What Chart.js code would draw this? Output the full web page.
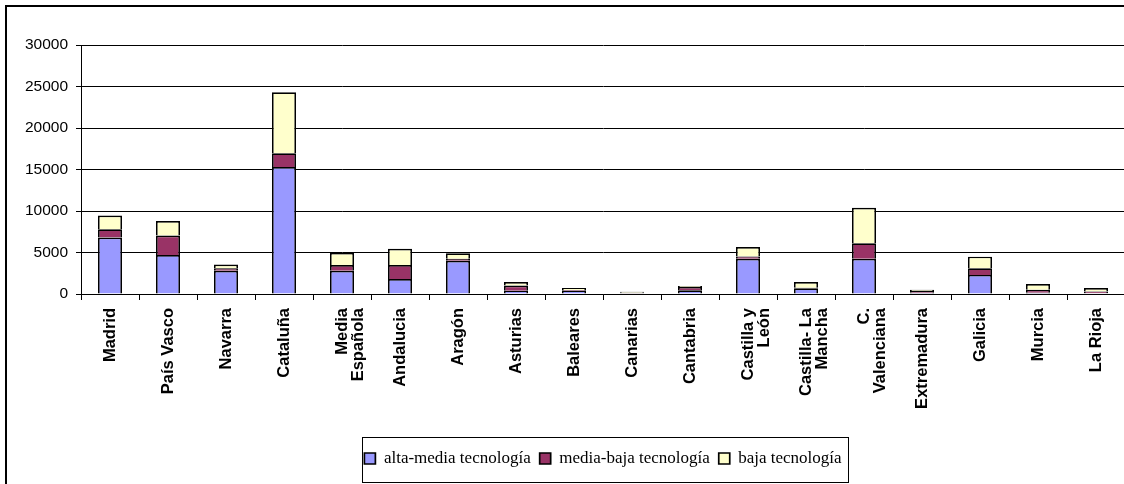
<!DOCTYPE html>
<html>
<head>
<meta charset="utf-8">
<script src="https://cdn.jsdelivr.net/npm/chart.js@4/dist/chart.umd.min.js"></script>
<style>
  html, body { margin: 0; padding: 0; background: #fff; overflow: hidden; width: 1124px; height: 484px; }
  #frame { position: absolute; left: 5px; top: 5px; width: 1200px; height: 600px; border-left: 2px solid #000; border-top: 2px solid #000; }
  #c { position: absolute; left: 0; top: 0; }
</style>
</head>
<body>
<div id="frame"></div>
<canvas id="c" width="1130" height="484"></canvas>
<script>
const categories = ["Madrid", "País Vasco", "Navarra", "Cataluña", ["Media", "Española"], "Andalucia", "Aragón", "Asturias", "Baleares", "Canarias", "Cantabria", ["Castilla y", "León"], ["Castilla- La", "Mancha"], ["C.", "Valenciana"], "Extremadura", "Galicia", "Murcia", "La Rioja"];
const seriesNames = ["alta-media tecnología", "media-baja tecnología", "baja tecnología"];
const altaMedia = [6800, 4700, 2800, 15300, 2800, 1800, 4000, 400, 400, 80, 450, 4250, 700, 4250, 150, 2300, 150, 100];
const mediaBaja = [1000, 2350, 300, 1650, 700, 1700, 250, 620, 80, 60, 400, 280, 40, 1850, 200, 800, 350, 200];
const baja = [1650, 1750, 450, 7350, 1450, 1950, 650, 430, 240, 130, 120, 1120, 700, 4300, 150, 1400, 700, 420];
const yTicks = [0, 5000, 10000, 15000, 20000, 25000, 30000];

const legendBorder = {
  id: 'legendBorder',
  afterDraw(chart) {
    const hb = chart.legend && chart.legend.legendHitBoxes;
    if (!hb || !hb.length) return;
    const first = hb[0], last = hb[hb.length - 1];
    const x0 = first.left - 2, x1 = last.left + last.width + 7;
    const cy = first.top + first.height / 2;
    const ctx = chart.ctx;
    ctx.save();
    ctx.strokeStyle = '#000';
    ctx.lineWidth = 1;
    ctx.strokeRect(Math.round(x0) + 0.5, Math.round(cy - 22) + 0.5, Math.round(x1 - x0), 45);
    ctx.restore();
  }
};

new Chart(document.getElementById('c'), {
  type: 'bar',
  data: {
    labels: categories,
    datasets: [
      { label: seriesNames[0], data: altaMedia, backgroundColor: '#9999FF', borderColor: '#000', borderWidth: 1.7 },
      { label: seriesNames[1], data: mediaBaja, backgroundColor: '#993366', borderColor: '#000', borderWidth: 1.7 },
      { label: seriesNames[2], data: baja, backgroundColor: '#FFFFCC', borderColor: '#000', borderWidth: 1.7 }
    ]
  },
  options: {
    responsive: false,
    animation: false,
    devicePixelRatio: 1,
    datasets: { bar: { categoryPercentage: 1, barPercentage: 0.414 } },
    layout: { padding: { top: 45, left: 0, right: 5, bottom: 7 } },
    plugins: {
      tooltip: { enabled: false },
      legend: {
        position: 'bottom',
        fullSize: false,
        labels: {
          color: '#000',
          font: { family: "'Liberation Serif', 'Times New Roman', serif", size: 17 },
          boxWidth: 11,
          boxHeight: 11,
          padding: 9
        }
      }
    },
    scales: {
      x: {
        stacked: true,
        grid: { offset: true, drawOnChartArea: false, drawTicks: true, tickLength: 6, color: '#000', lineWidth: 1 },
        border: { display: true, color: '#000', width: 1 },
        ticks: {
          autoSkip: false, maxRotation: 90, minRotation: 90, padding: 8, color: '#000',
          font: { family: "'Liberation Sans', Arial, sans-serif", size: 16.5, weight: 'bold', lineHeight: 1.0 }
        },
        afterFit(scale) { scale.height = 147; }
      },
      y: {
        stacked: true,
        min: 0, max: 30000,
        afterBuildTicks(scale) { scale.ticks = yTicks.map(v => ({ value: v })); },
        grid: { color: '#000', lineWidth: 1, drawTicks: true, tickLength: 5 },
        border: { display: true, color: '#000', width: 1 },
        ticks: {
          padding: 8, color: '#000',
          font: { family: "'Liberation Sans', Arial, sans-serif", size: 15.5 },
          callback: (v) => String(v)
        },
        afterFit(scale) { scale.width = 81; }
      }
    }
  },
  plugins: [legendBorder]
});
</script>
</body>
</html>
